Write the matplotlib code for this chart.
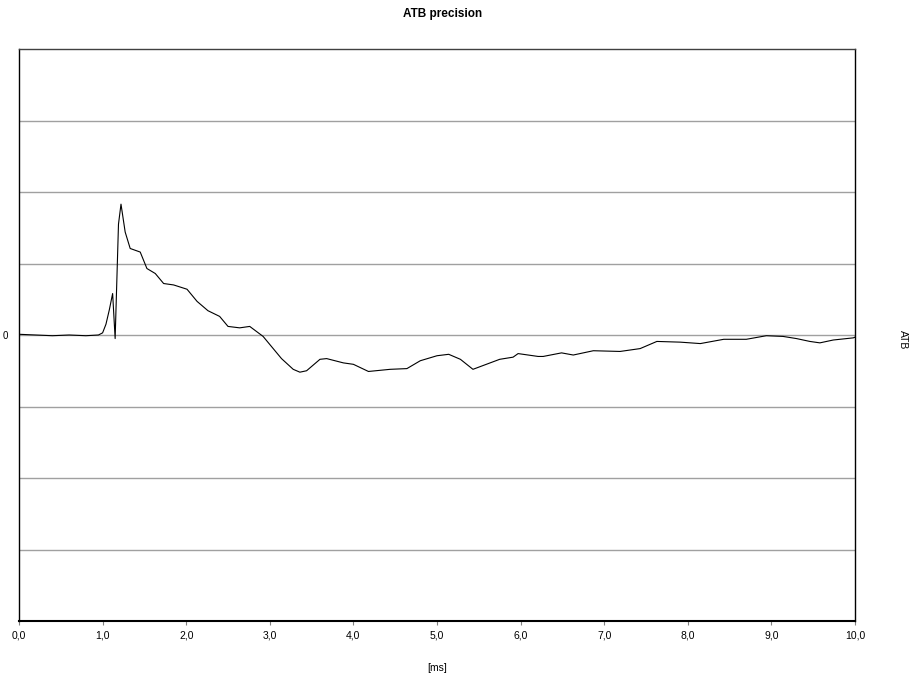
import matplotlib
matplotlib.use("Agg")
import matplotlib.pyplot as plt

# Data (time in ms, ATB value in grid units)
time_ms = [0.0, 0.2, 0.4, 0.6, 0.8, 0.95, 1.0, 1.04, 1.08, 1.12, 1.15, 1.17, 1.19, 1.22,
           1.27, 1.33, 1.45, 1.53, 1.63, 1.73, 1.85, 2.01, 2.13, 2.26, 2.40, 2.50, 2.64,
           2.76, 2.92, 3.14, 3.28, 3.36, 3.44, 3.60, 3.68, 3.88, 4.00, 4.18, 4.44, 4.64,
           4.80, 5.00, 5.14, 5.28, 5.43, 5.59, 5.75, 5.91, 5.97, 6.21, 6.27, 6.49, 6.63,
           6.87, 7.19, 7.43, 7.63, 7.91, 8.15, 8.43, 8.70, 8.94, 9.14, 9.30, 9.46, 9.58,
           9.74, 9.98, 10.0]
atb = [0.01, 0.0, -0.01, 0.0, -0.01, 0.0, 0.03, 0.15, 0.35, 0.58, -0.05, 0.75, 1.55, 1.83,
       1.44, 1.21, 1.16, 0.93, 0.86, 0.72, 0.70, 0.64, 0.47, 0.34, 0.26, 0.12, 0.10,
       0.12, -0.02, -0.33, -0.48, -0.52, -0.50, -0.34, -0.33, -0.39, -0.41, -0.51, -0.48, -0.47,
       -0.36, -0.29, -0.27, -0.34, -0.48, -0.41, -0.34, -0.31, -0.26, -0.30, -0.30, -0.25, -0.28,
       -0.22, -0.23, -0.19, -0.09, -0.10, -0.12, -0.06, -0.06, -0.01, -0.02, -0.05, -0.09, -0.11,
       -0.07, -0.04, -0.03]

x_ticks = [0, 1, 2, 3, 4, 5, 6, 7, 8, 9, 10]
x_tick_labels = ["0,0", "1,0", "2,0", "3,0", "4,0", "5,0", "6,0", "7,0", "8,0", "9,0", "10,0"]
y_grid = [-3, -2, -1, 0, 1, 2, 3]

plt.rcParams['font.family'] = ['Liberation Sans Narrow', 'Liberation Sans', 'DejaVu Sans']

fig = plt.figure(figsize=(9.15, 6.82), dpi=100)
ax = fig.add_axes([19/915, 1 - 621/682, (855-19)/915, (621-49)/682])

ax.plot(time_ms, atb, color='black', lw=0.8)
ax.set_xlim(0, 10)
ax.set_ylim(-4, 4)

ax.set_yticks(y_grid)
ax.set_yticklabels(["" if v != 0 else "0" for v in y_grid])
ax.tick_params(axis='y', length=0, labelsize=7, pad=8)
ax.yaxis.grid(True, color='#a0a0a0', lw=1)
ax.set_axisbelow(True)

ax.set_xticks(x_ticks)
ax.set_xticklabels(x_tick_labels)
ax.tick_params(axis='x', length=3, width=0.8, color='#808080', labelsize=7.5, pad=4)

for s in ['left', 'right', 'bottom']:
    ax.spines[s].set_color('black')
    ax.spines[s].set_linewidth(1.0)
ax.spines['top'].set_color('#404040')
ax.spines['top'].set_linewidth(1.0)
ax.spines['bottom'].set_linewidth(1.5)

fig.text(443/915, 1 - 14/682, "ATB precision", ha='center', va='center',
         fontsize=8.5, fontweight='bold')
fig.text(437/915, 1 - 668/682, "[ms]", ha='center', va='center', fontsize=7.5)
fig.text(903/915, 1 - 340/682, "ATB", ha='center', va='center', fontsize=7.5, rotation=-90)

fig.savefig("out.png", dpi=100, facecolor='white')
